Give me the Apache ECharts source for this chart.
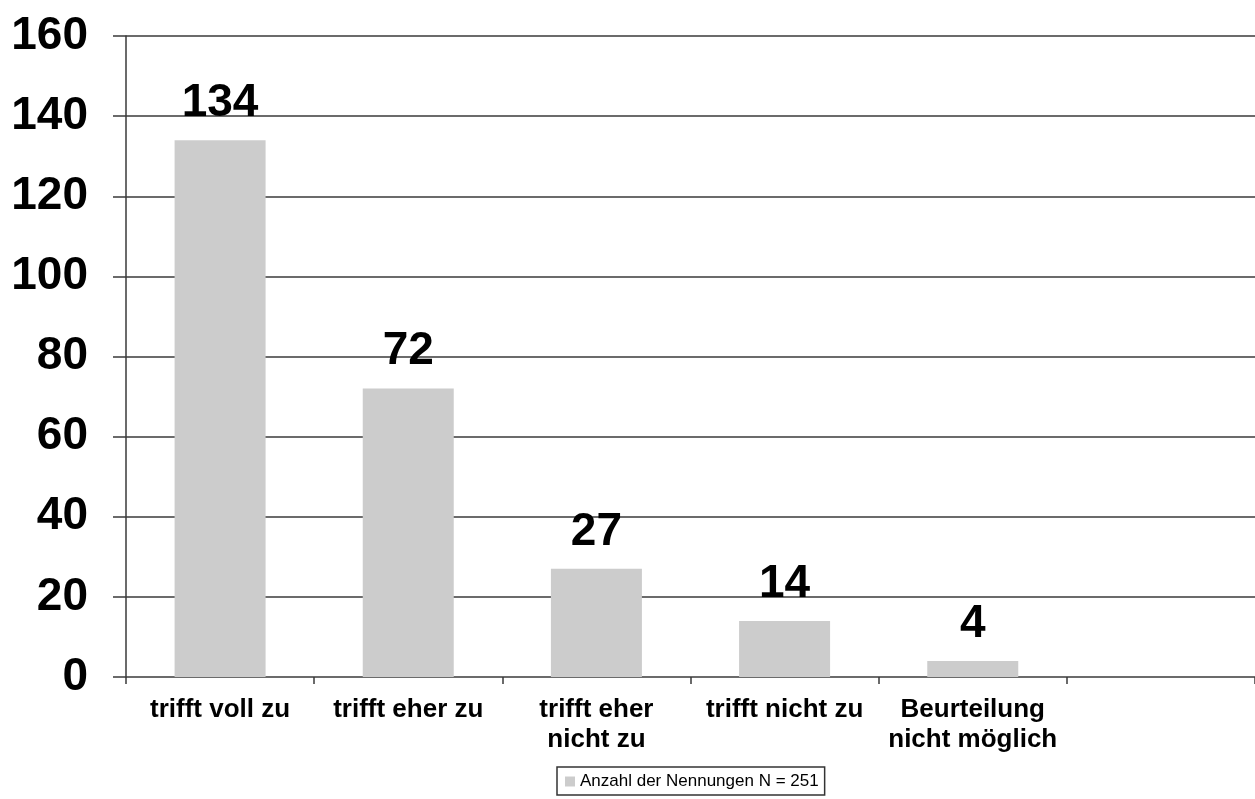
<!DOCTYPE html>
<html><head><meta charset="utf-8">
<script src="https://cdn.jsdelivr.net/npm/echarts@6/dist/echarts.min.js"></script>
<style>html,body{margin:0;padding:0;background:#fff}#c{width:1255px;height:799px}</style>
</head><body><div id="c"></div>
<script>
const categories = ['trifft voll zu', 'trifft eher zu', 'trifft eher\nnicht zu', 'trifft nicht zu', 'Beurteilung\nnicht möglich', ''];
const values = [134, 72, 27, 14, 4, null];
const seriesName = 'Anzahl der Nennungen N = 251';
const yTicks = { min: 0, max: 160, interval: 20 };

const FONT = 'Arial, "Liberation Sans", sans-serif';
const LINE = '#3a3a3a';
const chart = echarts.init(document.getElementById('c'), null, { renderer: 'canvas' });
chart.setOption({
  backgroundColor: '#fff',
  animation: false,
  grid: { left: 126, right: 0, top: 36, bottom: 122, containLabel: false },
  legend: {
    data: [seriesName],
    left: 557, top: 767,
    itemWidth: 10, itemHeight: 10, itemGap: 4,
    padding: [6, 6, 5, 8],
    borderColor: '#333', borderWidth: 1.5,
    icon: 'rect',
    textStyle: { fontFamily: FONT, fontSize: 17, color: '#000' }
  },
  xAxis: {
    type: 'category', data: categories,
    axisLine: { show: false },
    axisTick: { show: true, length: 7, lineStyle: { color: LINE, width: 1.5 }, alignWithLabel: false },
    axisLabel: { interval: 0, fontFamily: FONT, fontWeight: 'bold', fontSize: 26, color: '#000', lineHeight: 30, margin: 18 },
    splitLine: { show: false }
  },
  yAxis: {
    type: 'value', min: yTicks.min, max: yTicks.max, interval: yTicks.interval,
    axisLine: { show: true, lineStyle: { color: LINE, width: 1.5 } },
    axisTick: { show: true, length: 13, lineStyle: { color: LINE, width: 1.5 } },
    axisLabel: { fontFamily: FONT, fontWeight: 'bold', fontSize: 46, color: '#000', margin: 38 },
    splitLine: { show: true, lineStyle: { color: LINE, width: 1.5 } }
  },
  series: [{
    name: seriesName, type: 'bar', data: values, barWidth: 91,
    itemStyle: { color: '#cccccc' },
    label: { show: true, position: 'top', distance: 14, fontFamily: FONT, fontWeight: 'bold', fontSize: 46, color: '#000' }
  }]
});
</script></body></html>
